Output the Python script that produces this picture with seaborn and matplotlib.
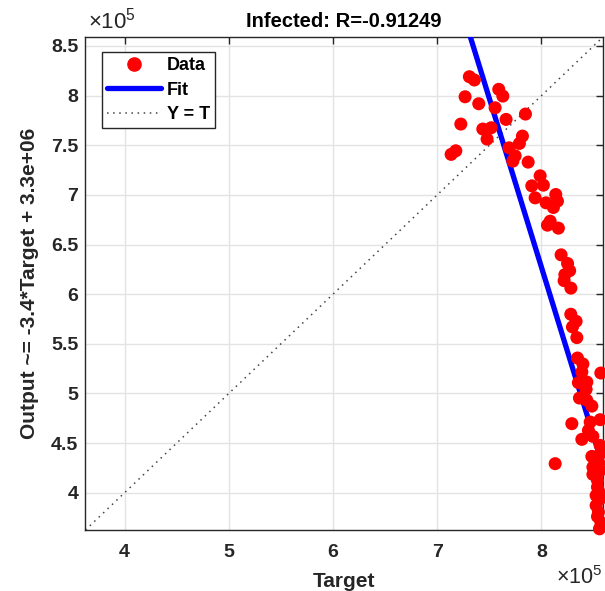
import numpy as np
import pandas as pd
import matplotlib
matplotlib.use("Agg")
import matplotlib.pyplot as plt
from matplotlib.lines import Line2D
from matplotlib.ticker import FuncFormatter, FixedLocator
import seaborn as sns

# ---- data (units of 1e5) ----
target = [7.308, 7.356, 7.590, 7.629, 7.267, 7.398, 7.555, 7.846, 7.226, 7.660,
          7.437, 7.517, 7.478, 7.817, 7.788, 7.689, 7.133, 7.178, 7.747, 7.725,
          7.872, 7.987, 7.907, 8.018, 7.939, 8.137, 8.044, 8.153, 8.114, 8.083,
          8.057, 8.162, 8.188, 8.250, 8.270, 8.224, 8.217, 8.282, 8.281, 8.332,
          8.297, 8.339, 8.345, 8.397, 8.387, 8.569, 8.354, 8.435, 8.428, 8.364,
          8.435, 8.483, 8.291, 8.467, 8.563, 8.450, 8.493, 8.387, 8.563, 8.483,
          8.563, 8.131, 8.493, 8.563, 8.493, 8.537, 8.537, 8.524, 8.563, 8.524,
          8.546, 8.537, 8.556, 8.550, 8.550, 8.570]
output = [8.190, 8.157, 8.063, 7.995, 7.988, 7.918, 7.877, 7.814, 7.713, 7.760,
          7.663, 7.676, 7.562, 7.592, 7.518, 7.474, 7.408, 7.444, 7.393, 7.340,
          7.330, 7.192, 7.091, 7.098, 6.970, 7.004, 6.920, 6.937, 6.873, 6.735,
          6.695, 6.665, 6.396, 6.309, 6.237, 6.197, 6.136, 6.061, 5.798, 5.727,
          5.670, 5.563, 5.357, 5.297, 5.216, 5.206, 5.109, 5.115, 5.042, 4.954,
          4.931, 4.873, 4.696, 4.712, 4.736, 4.628, 4.568, 4.538, 4.477, 4.366,
          4.393, 4.293, 4.258, 4.225, 4.185, 4.124, 4.057, 3.973, 3.940, 3.872,
          3.805, 3.761, 3.637, 4.300, 4.010, 3.700]

FIT_SLOPE = -3.4
FIT_INTERCEPT = 33.47   # 3.347e6 in units of 1e5
R_VALUE = -0.91249
AX_LIMITS = [3.625, 8.59]
x_ticks = [4, 5, 6, 7, 8]
y_ticks = [4, 4.5, 5, 5.5, 6, 6.5, 7, 7.5, 8, 8.5]

TITLE = f"Infected: R={R_VALUE}"
XLABEL = "Target"
YLABEL = "Output ~= -3.4*Target + 3.3e+06"
EXP_TEXT = r"$\mathregular{\times10^{5}}$"

sns.set_theme(style="white")
plt.rcParams['font.family'] = ['Liberation Sans', 'DejaVu Sans']
plt.rcParams['mathtext.fontset'] = 'custom'
plt.rcParams['mathtext.rm'] = 'Liberation Sans'
dark = "#262626"

fig = plt.figure(figsize=(6.05, 5.91), dpi=100)
ax = fig.add_axes([0.1412, 0.1032, 0.8555, 0.8342])

df = pd.DataFrame({"Target": target, "Output": output})
fit_df = pd.DataFrame({"x": AX_LIMITS,
                       "y": [FIT_SLOPE * v + FIT_INTERCEPT for v in AX_LIMITS]})
diag_df = pd.DataFrame({"x": AX_LIMITS, "y": AX_LIMITS})

ax.grid(True, color="#e3e3e3", linewidth=1.0, zorder=0)
ax.set_axisbelow(True)

sns.lineplot(data=diag_df, x="x", y="y", ax=ax, color="#444444",
             linestyle=(0, (1, 3)), linewidth=1.1, zorder=2)
sns.lineplot(data=fit_df, x="x", y="y", ax=ax, color="#0000ff",
             linewidth=3.8, zorder=3)
sns.scatterplot(data=df, x="Target", y="Output", ax=ax, color="#ff0000",
                s=88, edgecolor="none", zorder=4)
for coll in ax.collections:
    coll.set_clip_on(False)

ax.set_xlim(AX_LIMITS)
ax.set_ylim(AX_LIMITS)
ax.xaxis.set_major_locator(FixedLocator(x_ticks))
ax.yaxis.set_major_locator(FixedLocator(y_ticks))
fmt = FuncFormatter(lambda v, p: f"{v:g}")
ax.xaxis.set_major_formatter(fmt)
ax.yaxis.set_major_formatter(fmt)
ax.tick_params(axis="both", which="major", direction="in", length=5, width=1,
               colors=dark, labelsize=14, top=True, right=True,
               labelcolor=dark)
ax.tick_params(axis="y", pad=5)
ax.tick_params(axis="x", pad=10)
for lab in ax.get_xticklabels() + ax.get_yticklabels():
    lab.set_fontweight("bold")
for sp in ax.spines.values():
    sp.set_color(dark)
    sp.set_linewidth(1.0)
    sp.set_visible(True)

ax.set_title(TITLE, fontsize=14.5, fontweight="bold", color="black", pad=7)
ax.set_xlabel(XLABEL, fontsize=15, fontweight="bold", color=dark, labelpad=8)
ax.set_ylabel(YLABEL, fontsize=15, fontweight="bold", color=dark, labelpad=9)

# exponent labels
fig.text(0.146, 0.966, EXP_TEXT, fontsize=16, color=dark,
         ha="left", va="center")
fig.text(0.995, 0.004, EXP_TEXT, fontsize=15.5, color=dark,
         ha="right", va="bottom")

handles = [
    Line2D([], [], marker="o", linestyle="none", color="#ff0000",
           markersize=9.5),
    Line2D([], [], color="#0000ff", linewidth=3.8),
    Line2D([], [], color="#444444", linestyle=(0, (1, 3)), linewidth=1.1),
]
leg = ax.legend(handles, ["Data", "Fit", "Y = T"], loc="upper left",
                bbox_to_anchor=(0.0315, 0.9696), borderaxespad=0,
                frameon=True, fancybox=False, framealpha=1,
                edgecolor=dark, handlelength=3.0,
                handletextpad=0.3, labelspacing=0.4, borderpad=0.3,
                prop={"weight": "bold", "size": 13})
leg.get_frame().set_linewidth(1.0)
for t in leg.get_texts():
    t.set_color("black")

fig.savefig("out.png", dpi=100)
